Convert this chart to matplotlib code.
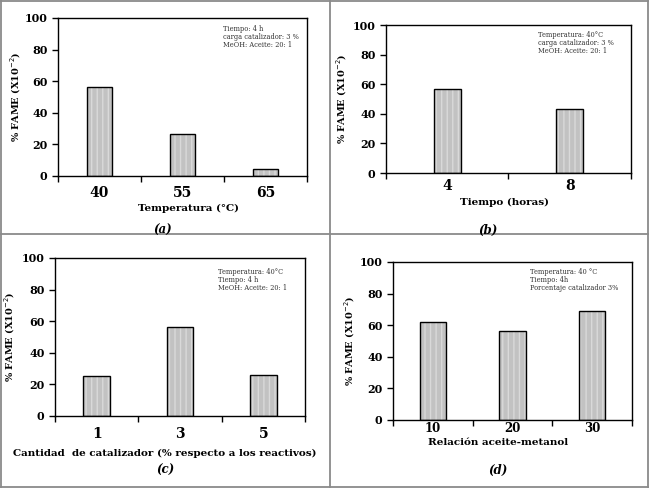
import numpy as np
import matplotlib
matplotlib.use('Agg')
import matplotlib.pyplot as plt
from matplotlib.lines import Line2D

plt.rcParams['font.family'] = 'DejaVu Serif'
plt.rcParams['hatch.linewidth'] = 1.0

# data
temp_labels = ['40', '55', '65']
temp_fame = [56.5, 26.5, 4.5]

time_labels = ['4', '8']
time_fame = [57, 43.4]

cat_labels = ['1', '3', '5']
cat_fame = [25.3, 56.5, 26]

ratio_labels = ['10', '20', '30']
ratio_fame = [62, 56.5, 69]

W, H = 650, 490
fig = plt.figure(figsize=(W / 100, H / 100), dpi=100)


def px_axes(x0, y0, x1, y1):
    # pixel box (top-left origin) -> figure axes
    return fig.add_axes([x0 / W, 1 - y1 / H, (x1 - x0) / W, (y1 - y0) / H])


def panel(ax, labels, values, width, xlabel, notes, xl_pos, letter, let_pos, note_pos, yl_x,
          xfs=10, xpad=7):
    n = len(labels)
    pos = np.arange(n)
    # striped fill first, then the black outline on top
    ax.bar(pos, values, width=width, color='#c2c2c2', edgecolor='#d9d9d9',
           linewidth=0, hatch='|||', zorder=2)
    ax.bar(pos, values, width=width, fill=False, edgecolor='black',
           linewidth=1.0, zorder=3)
    ax.set_xlim(-0.5, n - 0.5)
    ax.set_ylim(0, 100)
    ax.set_yticks(np.arange(0, 101, 20))
    ax.set_xticks(pos)
    ax.set_xticklabels(labels, fontsize=xfs, fontweight='bold')
    ax.set_xticks(np.arange(n + 1) - 0.5, minor=True)
    ax.tick_params(axis='x', which='major', length=0, pad=xpad)
    ax.tick_params(axis='x', which='minor', length=4, direction='out', width=1)
    ax.tick_params(axis='y', length=4, direction='out', width=1, labelsize=8)
    for t in ax.get_yticklabels():
        t.set_fontweight('bold')
    for s in ax.spines.values():
        s.set_linewidth(1.0)
    ax.set_ylabel('% FAME (X10$^{-2}$)', fontsize=7, fontweight='bold')
    ax.yaxis.set_label_coords(yl_x, 0.5)
    fig.text(xl_pos[0] / W, 1 - xl_pos[1] / H, xlabel, fontsize=7.5,
             fontweight='bold', ha='center', va='center')
    fig.text(let_pos[0] / W, 1 - let_pos[1] / H, letter, fontsize=8.5,
             fontweight='bold', style='italic', ha='center', va='center')
    for i, line in enumerate(notes):
        fig.text(note_pos[0] / W, 1 - (note_pos[1] + i * 8) / H, line,
                 fontsize=4.8, color='#333333', ha='left', va='center')


ax_a = px_axes(58, 18, 307, 176)
panel(ax_a, temp_labels, temp_fame, 0.29, 'Temperatura (°C)',
      ['Tiempo: 4 h', 'carga catalizador: 3 %', 'MeOH: Aceite: 20: 1'],
      (188, 208), '(a)', (163, 230), (223, 29), -0.14, xpad=7)

ax_b = px_axes(386, 25, 631, 173)
panel(ax_b, time_labels, time_fame, 0.22, 'Tiempo (horas)',
      ['Temperatura: 40°C', 'carga catalizador: 3 %', 'MeOH: Aceite: 20: 1'],
      (505, 202), '(b)', (488, 230), (538, 35), -0.15, xpad=4)

ax_c = px_axes(55, 258, 305, 416)
panel(ax_c, cat_labels, cat_fame, 0.32, 'Cantidad  de catalizador (% respecto a los reactivos)',
      ['Temperatura: 40°C', 'Tiempo: 4 h', 'MeOH: Aceite: 20: 1'],
      (165, 453), '(c)', (165, 470), (218, 272), -0.15, xpad=8)

ax_d = px_axes(393, 262, 632, 420)
panel(ax_d, ratio_labels, ratio_fame, 0.33, 'Relación aceite-metanol',
      ['Temperatura: 40 °C', 'Tiempo: 4h', 'Porcentaje catalizador 3%'],
      (498, 442), '(d)', (498, 470), (530, 272), -0.15, xfs=8.5, xpad=1.5)

# panel dividers and outer frame
gray = '#8a8a8a'
segs = [((1, 1), (648, 1)), ((648, 1), (648, 487)), ((648, 487), (1, 487)),
        ((1, 487), (1, 1)), ((330, 1), (330, 487)), ((1, 234), (648, 234))]
for (xa, ya), (xb, yb) in segs:
    fig.add_artist(Line2D([xa / W, xb / W], [1 - ya / H, 1 - yb / H],
                          color=gray, linewidth=1.3, transform=fig.transFigure))

fig.savefig('out.png', dpi=100)
